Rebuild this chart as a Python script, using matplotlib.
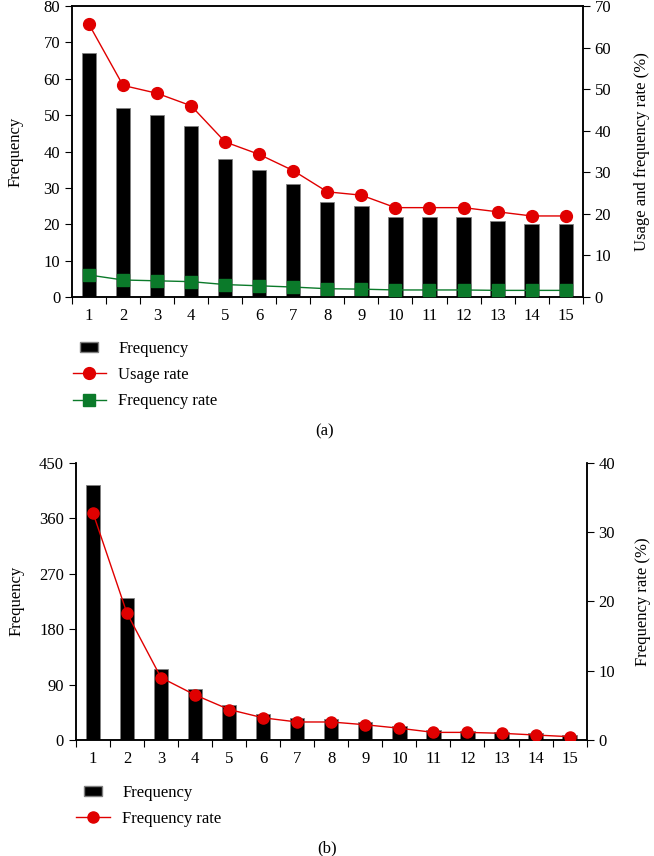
import numpy as np
import matplotlib
matplotlib.use("Agg")
import matplotlib.pyplot as plt
from matplotlib.patches import Patch, Rectangle
from matplotlib.lines import Line2D
from matplotlib.legend_handler import HandlerPatch

plt.rcParams["font.family"] = ["Liberation Serif", "DejaVu Serif"]
plt.rcParams["font.size"] = 12

# data
ranks = list(range(1, 16))
freq_a = [67, 52, 50, 47, 38, 35, 31, 26, 25, 22, 22, 22, 21, 20, 20]
usage_a = [65.6, 50.9, 49.0, 46.0, 37.3, 34.3, 30.4, 25.3, 24.5, 21.5, 21.5, 21.5, 20.5, 19.5, 19.5]
frate_a = [5.3, 4.1, 3.9, 3.7, 3.0, 2.7, 2.4, 2.0, 1.9, 1.7, 1.7, 1.7, 1.6, 1.6, 1.6]

freq_b = [413, 231, 115, 83, 57, 42, 36, 34, 30, 23, 16, 15, 13.5, 11, 8]
frate_b = [32.8, 18.3, 9.0, 6.5, 4.4, 3.2, 2.6, 2.6, 2.2, 1.7, 1.1, 1.1, 0.97, 0.72, 0.48]

RED = "#e00000"
GREEN = "#0b7a2a"

fig = plt.figure(figsize=(6.54, 8.56), dpi=100)


# small centred box for the bar entry in the legend
def small_box(legend, orig_handle, xdescent, ydescent, width, height, fontsize):
    w, h = width * 0.55, height * 0.85
    return Rectangle((-xdescent + (width - w) / 2, -ydescent + (height - h) / 2), w, h)


box_handler = {Patch: HandlerPatch(patch_func=small_box)}


def style_x(ax):
    ax.set_xlim(0.5, 15.5)
    ax.set_xticks(np.arange(0.5, 16, 1))
    ax.set_xticklabels([])
    ax.set_xticks(ranks, minor=True)
    ax.set_xticklabels([str(r) for r in ranks], minor=True)
    ax.tick_params(axis="x", which="minor", length=0, pad=8)
    ax.tick_params(axis="x", which="major", length=5, direction="out")


# ---- panel (a)
ax1 = fig.add_axes([0.110, 0.653, 0.781, 0.340])
ax1.bar(ranks, freq_a, width=0.42, color="black", edgecolor="#808080", linewidth=0.6, zorder=1)
ax1.set_ylim(0, 80)
ax1.set_yticks(range(0, 81, 10))
ax1.set_ylabel("Frequency")
ax1.yaxis.set_label_coords(-0.095, 0.5)
style_x(ax1)
ax1.tick_params(axis="y", length=5, direction="out")

ax1r = ax1.twinx()
ax1r.plot(ranks, usage_a, color=RED, lw=1, marker="o", ms=8.5, zorder=3)
ax1r.plot(ranks, frate_a, color=GREEN, lw=1, marker="s", ms=8, zorder=3)
ax1r.set_ylim(0, 70)
ax1r.set_yticks(range(0, 71, 10))
ax1r.set_ylabel("Usage and frequency rate (%)")
ax1r.yaxis.set_label_coords(1.10, 0.5)
ax1r.tick_params(axis="y", length=5, direction="out")

for a in (ax1, ax1r):
    for s in a.spines.values():
        s.set_linewidth(1.1)

handles_a = [
    Patch(facecolor="black", edgecolor="#808080"),
    Line2D([], [], color=RED, lw=1, marker="o", ms=8.5),
    Line2D([], [], color=GREEN, lw=1, marker="s", ms=8),
]
fig.legend(handles_a, ["Frequency", "Usage rate", "Frequency rate"],
           loc="upper left", bbox_to_anchor=(0.088, 0.6195), frameon=False,
           handlelength=2.0, handletextpad=0.75, labelspacing=0.62,
           handler_map=box_handler)
fig.text(0.497, 0.496, "(a)", ha="center", va="center")

# ---- panel (b)
ax2 = fig.add_axes([0.116, 0.1355, 0.781, 0.324])
ax2.bar(ranks, freq_b, width=0.42, color="black", edgecolor="#808080", linewidth=0.6, zorder=1)
ax2.set_ylim(0, 450)
ax2.set_yticks(range(0, 451, 90))
ax2.set_ylabel("Frequency")
ax2.yaxis.set_label_coords(-0.1, 0.5)
style_x(ax2)
ax2.tick_params(axis="y", length=5, direction="out")
ax2.spines["top"].set_visible(False)

ax2r = ax2.twinx()
ax2r.plot(ranks, frate_b, color=RED, lw=1, marker="o", ms=8, zorder=3)
ax2r.set_ylim(0, 40)
ax2r.set_yticks(range(0, 41, 10))
ax2r.set_ylabel("Frequency rate (%)")
ax2r.yaxis.set_label_coords(1.094, 0.5)
ax2r.tick_params(axis="y", length=5, direction="out")
ax2r.spines["top"].set_visible(False)

for a in (ax2, ax2r):
    for s in a.spines.values():
        s.set_linewidth(1.1)

handles_b = [
    Patch(facecolor="black", edgecolor="#808080"),
    Line2D([], [], color=RED, lw=1, marker="o", ms=8),
]
fig.legend(handles_b, ["Frequency", "Frequency rate"],
           loc="upper left", bbox_to_anchor=(0.094, 0.1005), frameon=False,
           handlelength=2.0, handletextpad=0.75, labelspacing=0.62,
           handler_map=box_handler)
fig.text(0.50, 0.009, "(b)", ha="center", va="center")

fig.savefig("out.png", dpi=100)
